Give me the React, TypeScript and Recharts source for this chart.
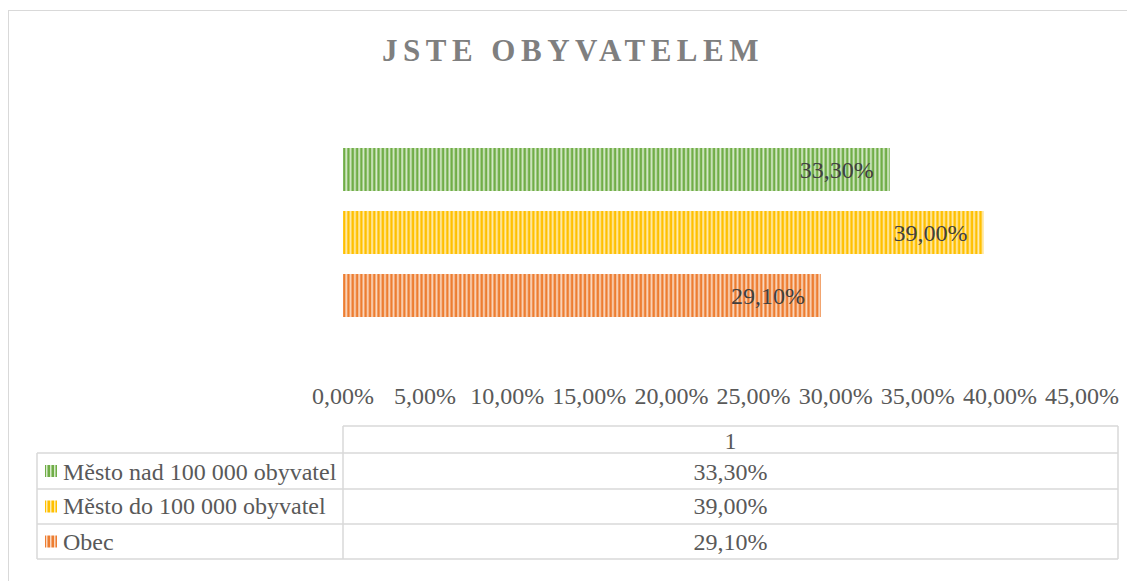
import React from 'react';
import { BarChart, Bar, XAxis, YAxis, LabelList } from 'recharts';

const categories = ['1'];
const seriesNames = ['Město nad 100 000 obyvatel', 'Město do 100 000 obyvatel', 'Obec'];
const seriesKeys = ['nad', 'do', 'obec'];
const nadValues = [0.333];
const doValues = [0.39];
const obecValues = [0.291];
const xTicks = [0, 0.05, 0.1, 0.15, 0.2, 0.25, 0.3, 0.35, 0.4, 0.45];
const title = 'JSTE OBYVATELEM';

const colors = ['#70AD47', '#FFC000', '#ED7D31'];
const lightColors = ['#D8EBCC', '#FFEBB0', '#FAD8C0'];
const seriesValues = [nadValues, doValues, obecValues];

const data = categories.map((c, i) => ({ cat: c, nad: nadValues[i], do: doValues[i], obec: obecValues[i] }));

const fmt = (v: number) => (v * 100).toFixed(2).replace('.', ',') + '%';
const FONT = '"Liberation Serif", "Times New Roman", serif';

const Tick = (props: any) => {
  const { x, y, payload } = props;
  return (
    <text x={x} y={y} dy={41} textAnchor="middle" fill="#595959" fontSize={24} fontFamily={FONT}>
      {fmt(payload.value)}
    </text>
  );
};

export default function App() {
  const W = 1127;
  const H = 573;
  const tLeft = 29;
  const tDiv = 335;
  const tRight = 1110;
  const rowYs = [418, 445, 481, 516, 551];
  const baseLines = [441, 472, 506, 542];
  const line = '#D9D9D9';
  return (
    <div style={{ position: 'relative', width: W, height: H, overflow: 'hidden', background: '#fff' }}>
      <div style={{ position: 'absolute', left: 0, top: 2, width: 1140, height: 700, border: '1.5px solid #D9D9D9', boxSizing: 'border-box' }} />
      <div style={{ position: 'absolute', left: 0, top: 0 }}>
        <BarChart
          width={W}
          height={H}
          data={data}
          layout="vertical"
          margin={{ top: 102, right: 53, left: 335, bottom: 196 }}
          barGap={20}
        >
          <defs>
            {colors.map((c, i) => (
              <pattern key={i} id={'stripe' + i} patternUnits="userSpaceOnUse" width={4.3} height={10}>
                <rect x={0} y={0} width={4.3} height={10} fill={c} />
                <rect x={2} y={0} width={1.8} height={10} fill={lightColors[i]} />
              </pattern>
            ))}
          </defs>
          <XAxis
            type="number"
            domain={[0, 0.45]}
            ticks={xTicks}
            axisLine={false}
            tickLine={false}
            height={30}
            tick={<Tick />}
            interval={0}
          />
          <YAxis type="category" dataKey="cat" hide />
          {seriesKeys.map((k, i) => (
            <Bar key={k} dataKey={k} name={seriesNames[i]} fill={`url(#stripe${i})`} barSize={43} isAnimationActive={false}>
              <LabelList
                dataKey={k}
                position="insideRight"
                offset={16}
                formatter={(v: any) => fmt(Number(v))}
                fill="#404040"
                fontSize={24}
                fontFamily={FONT}
              />
            </Bar>
          ))}
        </BarChart>
      </div>
      <svg width={W} height={H} style={{ position: 'absolute', left: 0, top: 0, pointerEvents: 'none' }}>
        <defs>
          {colors.map((c, i) => (
            <pattern key={i} id={'lstripe' + i} patternUnits="userSpaceOnUse" width={4} height={10}>
              <rect x={0} y={0} width={4} height={10} fill={c} />
              <rect x={2} y={0} width={1.5} height={10} fill={lightColors[i]} />
            </pattern>
          ))}
        </defs>
        <text x={565} y={53} textAnchor="middle" fill="#7F7F7F" fontSize={31} fontWeight="bold" fontFamily={FONT} letterSpacing={5.5}>
          {title}
        </text>
        <line x1={tDiv} y1={rowYs[0]} x2={tRight} y2={rowYs[0]} stroke={line} strokeWidth={1.5} />
        {rowYs.slice(1).map((y, i) => (
          <line key={i} x1={tLeft} y1={y} x2={tRight} y2={y} stroke={line} strokeWidth={1.5} />
        ))}
        <line x1={tDiv} y1={rowYs[0]} x2={tDiv} y2={rowYs[4]} stroke={line} strokeWidth={1.5} />
        <line x1={tRight} y1={rowYs[0]} x2={tRight} y2={rowYs[4]} stroke={line} strokeWidth={1.5} />
        <line x1={tLeft} y1={rowYs[1]} x2={tLeft} y2={rowYs[4]} stroke={line} strokeWidth={1.5} />
        <text x={(tDiv + tRight) / 2} y={baseLines[0]} textAnchor="middle" fill="#595959" fontSize={24} fontFamily={FONT}>
          {categories[0]}
        </text>
        {seriesNames.map((n, i) => {
          const top = rowYs[i + 1];
          const bottom = rowYs[i + 2];
          const mid = (top + bottom) / 2;
          return (
            <g key={n}>
              <rect x={37} y={mid - 6} width={12} height={12} fill={`url(#lstripe${i})`} />
              <text x={55} y={baseLines[i + 1]} fill="#595959" fontSize={24} fontFamily={FONT}>
                {n}
              </text>
              <text x={(tDiv + tRight) / 2} y={baseLines[i + 1]} textAnchor="middle" fill="#595959" fontSize={24} fontFamily={FONT}>
                {fmt(seriesValues[i][0])}
              </text>
            </g>
          );
        })}
      </svg>
    </div>
  );
}
